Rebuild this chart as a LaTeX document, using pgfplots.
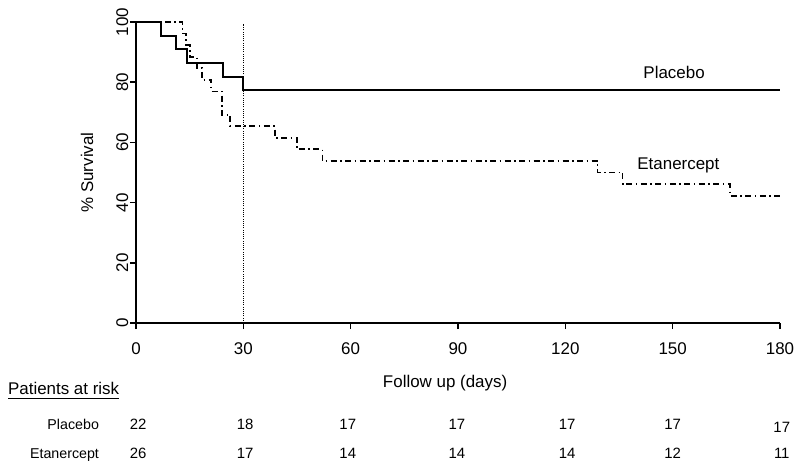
\documentclass[border=0pt]{standalone}
\usepackage{pgfplots}
\pgfplotsset{compat=1.18}
\usepackage{fontspec}
\setmainfont{Liberation Sans}
\newcommand\ul[1]{\setbox0\hbox{#1}\rlap{\vrule height -2.6bp depth 4.4bp width \wd0}\box0}
\begin{document}
\begin{tikzpicture}
\path[use as bounding box] (-136bp,-146bp) rectangle (664bp,323bp);
\begin{axis}[
  at={(0,0)}, anchor=south west,
  scale only axis, width=644bp, height=301bp,
  xmin=0, xmax=180, ymin=0, ymax=100,
  axis x line*=bottom, axis y line*=left,
  axis line style={line width=1.8bp, -},
  xtick={0,30,...,180}, ytick={0,20,...,100},
  tick align=outside, major tick length=6bp,
  tick style={line width=1.5bp, black},
  /pgf/number format/assume math mode=true,
  ticklabel style={font=\fontsize{17}{20}\selectfont},
  xticklabel style={yshift=-10bp},
  yticklabel style={rotate=90, anchor=south, inner sep=1.5bp},
  xlabel={Follow up (days)}, ylabel={\% Survival},
  label style={font=\fontsize{17}{20}\selectfont},
  xlabel style={at={(rel axis cs:0.48,-0.2)}, anchor=center},
  ylabel style={at={(rel axis cs:-0.076,0.5)}, anchor=center},
  clip=false,
]
% Placebo
\addplot[black, line width=2bp, const plot, mark=none] coordinates {
(0,100) (7.1,95.45) (11.1,90.91) (14.2,86.36) (24.2,81.82) (30,77.27) (180,77.27)};
% Etanercept
\addplot[black, line width=1.8bp, const plot, mark=none,
  dash pattern=on 6bp off 3.5bp on 1.5bp off 3.5bp] coordinates {
(0,100) (13,96.15) (14,92.31) (15,88.46) (17,84.62) (18.5,80.77) (21,76.92)
(24,69.23) (26.3,65.38) (38.8,61.54) (44.9,57.69) (52.1,53.85) (129,50)
(136,46.15) (166,42.31) (180,42.31)};
% 30-day line
\addplot[black, line width=1bp, dash pattern=on 1bp off 1.2bp, mark=none] coordinates {(30,0) (30,99.5)};

\node[font=\fontsize{17}{20}\selectfont] at (axis cs:150.4,83.1) {Placebo};
\node[font=\fontsize{17}{20}\selectfont] at (axis cs:151.6,52.5) {Etanercept};

\node[font=\fontsize{17}{20}\selectfont, anchor=base west, inner sep=0pt] at (axis cs:-35.8,-23.9) {\ul{Patients at risk}};

\begin{scope}[every node/.style={font=\fontsize{14.3}{17}\selectfont, inner sep=0pt}]
\node[anchor=base east] at (axis cs:-10.3,-35.5) {Placebo};
\node[anchor=base east] at (axis cs:-10.3,-44.9) {Etanercept};
\end{scope}
\begin{scope}[every node/.style={font=\fontsize{15}{18}\selectfont, inner sep=0pt, anchor=base}]
\node at (axis cs:0.6,-35.5) {22};
\node at (axis cs:30.5,-35.5) {18};
\node at (axis cs:59.2,-35.5) {17};
\node at (axis cs:89.7,-35.5) {17};
\node at (axis cs:120.5,-35.5) {17};
\node at (axis cs:150,-35.5) {17};
\node at (axis cs:180.5,-36.5) {17};
\node at (axis cs:0.6,-44.9) {26};
\node at (axis cs:30.5,-44.9) {17};
\node at (axis cs:59.2,-44.9) {14};
\node at (axis cs:89.7,-44.9) {14};
\node at (axis cs:120.5,-44.9) {14};
\node at (axis cs:150,-44.9) {12};
\node at (axis cs:180.5,-44.9) {11};
\end{scope}
\end{axis}
\end{tikzpicture}
\end{document}
